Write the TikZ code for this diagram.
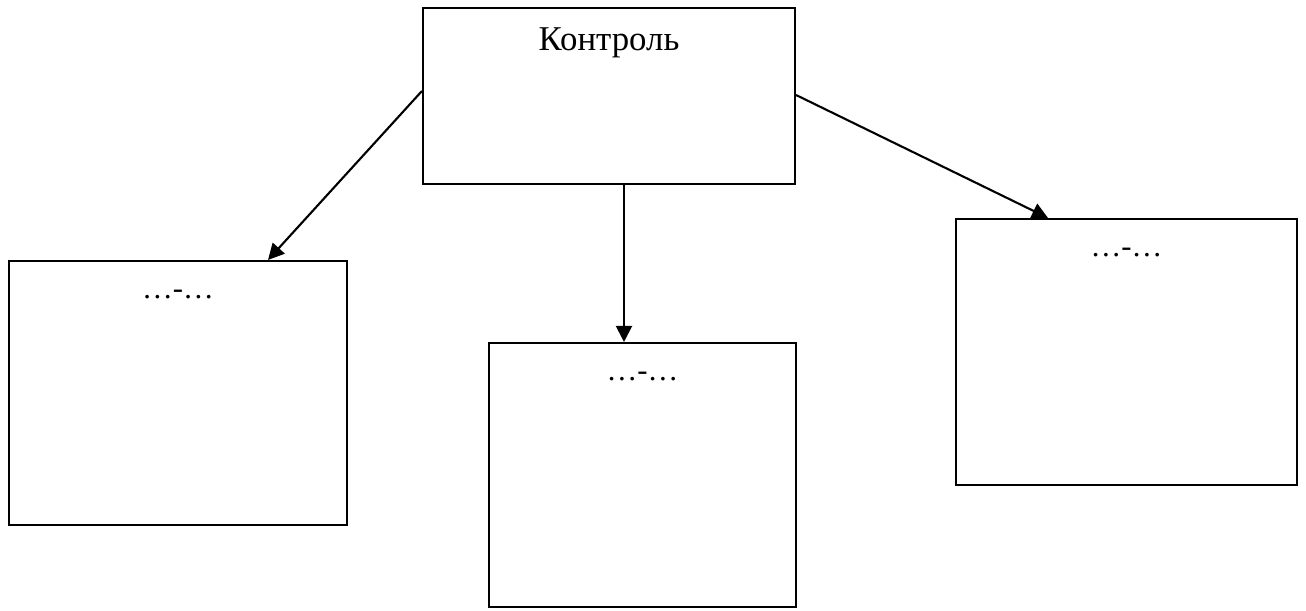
\documentclass[tikz,border=0pt]{standalone}
\usepackage{fontspec}
\setmainfont{Liberation Serif}
\usetikzlibrary{arrows.meta,positioning,calc}

\begin{document}
\begin{tikzpicture}[
		>={Triangle[length=0.32cm,width=0.32cm]},
		box/.style={draw, line width=1.2pt, inner sep=0pt},
		head/.style={font=\fontsize{19.8}{22}\selectfont, anchor=base, inner sep=0pt},
		dots/.style={font=\fontsize{17.5}{20}\selectfont, anchor=base, inner sep=0pt},
		link/.style={->, line width=1.2pt}
		]
		\useasboundingbox (0,0) rectangle (26.12,-12.2);
		
		% --------------------------------------------------
		% Top box
		% --------------------------------------------------
		\node[box, minimum width=7.44cm, minimum height=3.52cm] (ctrl) at (12.18,-1.92) {};
		\node[head] (ctrlTxt) at ($(ctrl.north)+(0,-0.88)$) {Контроль};
		
		% --------------------------------------------------
		% Lower boxes
		% --------------------------------------------------
		\node[box, minimum width=6.76cm, minimum height=5.28cm] (boxL) at (3.56,-7.86) {};
		\node[dots] (txtL) at ($(boxL.north)+(0,-0.78)$) {…-…};
		
		\node[box, minimum width=6.14cm, minimum height=5.28cm] (boxM) at (12.85,-9.5) {};
		\node[dots] (txtM) at ($(boxM.north)+(0,-0.78)$) {…-…};
		
		\node[box, minimum width=6.82cm, minimum height=5.32cm] (boxR) at (22.53,-7.04) {};
		\node[dots] (txtR) at ($(boxR.north)+(0,-0.78)$) {…-…};
		
		% --------------------------------------------------
		% Arrows
		% --------------------------------------------------
		\coordinate (fromL) at ($(ctrl.west)+(0,0.1)$);
		\coordinate (toL) at ($(boxL.north)+(1.8,0)$);
		\coordinate (fromM) at ($(ctrl.south)+(0.3,0)$);
		\coordinate (fromR) at ($(ctrl.east)+(0,0.02)$);
		\coordinate (toR) at ($(boxR.north)+(-1.57,0)$);
		
		\draw[link] (fromL) -- (toL);
		\draw[link] (fromM) -- (fromM |- boxM.north);
		\draw[link] (fromR) -- (toR);
		
\end{tikzpicture}
\end{document}
